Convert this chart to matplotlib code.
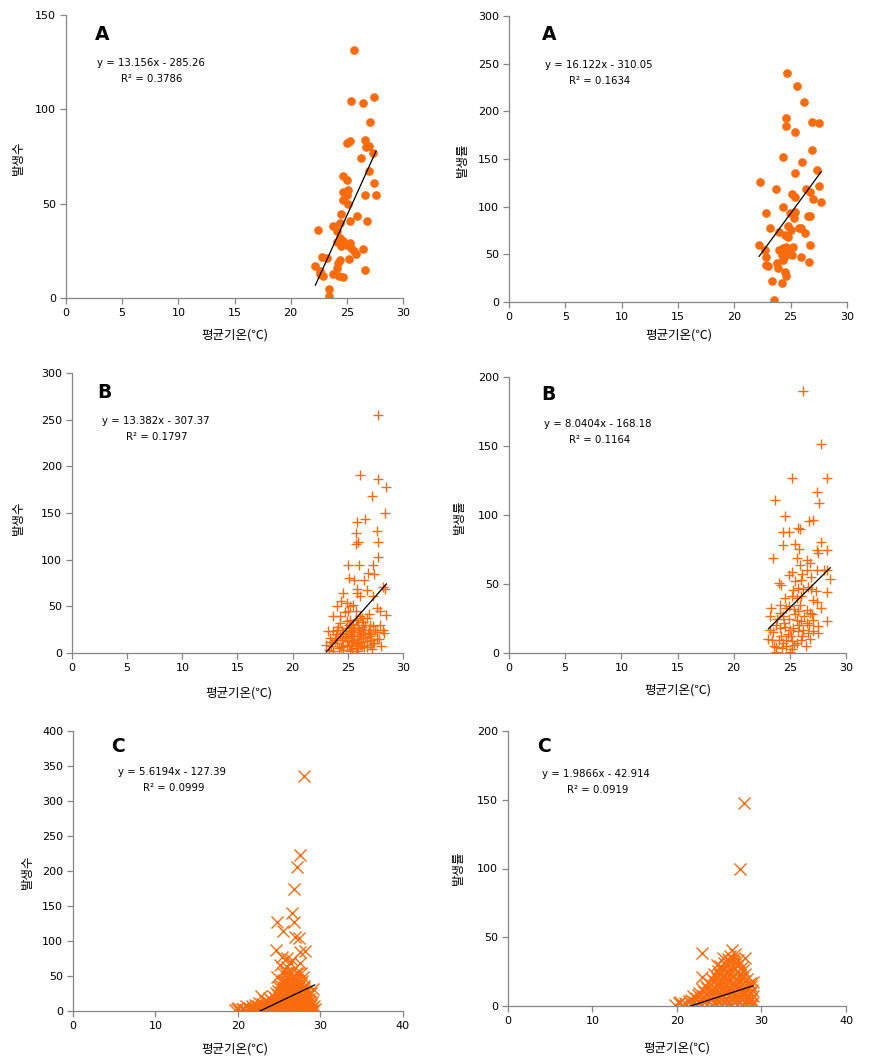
import numpy as np
import matplotlib
matplotlib.use("Agg")
import matplotlib.pyplot as plt

plt.rcParams['font.family'] = ['DejaVu Sans', 'Noto Sans CJK KR']

ORANGE = '#f96b0c'
W, H = 879, 1063

# ---- panel A (circles) ----
a1_x = [25.67, 25.4, 26.4, 27.4, 27.1, 25.0, 25.3, 26.6, 26.7, 27.0, 26.3, 27.3, 27.0, 27.4,
        26.6, 27.6, 24.7, 25.0, 25.1, 24.7, 25.0, 24.7, 25.1, 24.5, 25.9, 25.3, 26.8, 22.4,
        23.8, 24.4, 24.1, 24.4, 24.7, 25.0, 25.3, 24.1, 24.5, 25.4, 25.6, 26.4, 25.8, 25.2,
        22.8, 23.2, 24.4, 24.2, 24.1, 22.2, 22.6, 22.9, 23.8, 24.3, 24.7, 26.6, 23.4, 23.4, 22.6]
a1_y = [131.5, 104.6, 103.4, 106.6, 93.3, 82.0, 83.3, 83.5, 80.3, 80.8, 74.3, 76.8, 67.4, 60.7,
        54.7, 54.7, 64.8, 62.6, 57.0, 56.0, 54.7, 51.7, 50.0, 44.6, 43.6, 40.6, 40.6, 35.8,
        38.3, 40.0, 35.3, 31.8, 30.0, 28.2, 29.1, 29.5, 27.4, 26.5, 24.7, 25.9, 23.5, 20.6,
        21.5, 21.2, 20.3, 18.5, 15.9, 16.8, 12.9, 11.5, 12.9, 11.5, 11.1, 14.6, 4.8, 0.9, 14.1]
a1_fit = (13.156, -285.26)

a2_x = [24.7, 25.6, 26.2, 24.6, 24.6, 25.4, 26.9, 27.5, 24.3, 26.9, 26.0, 27.3, 25.4, 22.3,
        23.7, 26.4, 26.7, 27.5, 25.1, 25.4, 27.0, 27.7, 24.3, 22.8, 24.9, 25.4, 25.3, 26.5,
        26.7, 24.8, 25.0, 25.7, 25.9, 23.2, 24.0, 26.3, 24.5, 24.8, 22.2, 26.7, 22.7, 24.0,
        24.3, 24.6, 24.9, 25.2, 24.2, 24.5, 24.8, 25.1, 25.9, 22.8, 23.8, 24.3, 26.6, 23.0,
        22.8, 23.9, 24.5, 24.6, 23.3, 24.2, 23.5]
a2_y = [240.3, 226.7, 209.9, 193.2, 184.8, 177.8, 189.0, 187.9, 152.6, 159.6, 147.0, 138.7,
        134.8, 126.1, 118.8, 118.8, 114.9, 121.2, 112.8, 110.0, 108.3, 105.1, 99.9, 92.9,
        93.3, 94.7, 88.0, 90.5, 90.5, 79.3, 75.8, 77.5, 77.5, 77.9, 73.4, 72.7, 70.6, 68.1,
        60.1, 60.1, 54.1, 54.8, 56.6, 57.6, 55.5, 57.6, 49.6, 47.9, 51.3, 49.6, 46.8, 46.8,
        40.9, 43.7, 41.6, 37.4, 39.1, 35.6, 31.1, 26.9, 21.7, 19.6, 2.4]
a2_fit = (16.122, -310.05)

# ---- panel B (plus) ----
b1_x = [27.7, 26.1, 27.7, 28.5, 27.2, 28.4, 25.8, 26.6, 27.6, 25.7, 25.9, 25.7, 27.7, 27.7,
        27.3, 25.0, 26.0, 26.8, 27.4, 25.1, 25.6, 26.5, 25.8, 28.2, 28.4, 24.6, 25.8, 26.1,
        26.7, 27.3, 24.4, 24.9, 24.0, 25.2, 25.5, 27.6, 27.9, 24.7, 25.0, 23.7, 28.5, 26.1,
        26.7, 24.3, 24.9, 25.5, 25.8, 26.4, 27.0, 27.3, 23.2, 23.7, 24.0, 24.6, 25.2, 25.5,
        25.9, 26.2, 26.5, 26.8, 28.2, 28.3, 23.35, 23.8, 24.26, 24.7, 25.0, 25.3, 25.6, 25.9,
        26.4, 26.7, 27.1, 27.4, 23.05, 23.5, 24.0, 24.4, 24.9, 25.3, 25.7, 26.1, 26.5, 27.0,
        27.3, 27.6, 23.7, 24.6, 25.2, 25.8, 25.3, 25.6, 25.9, 26.1, 25.5, 25.7, 26.3, 25.4,
        25.8, 26.0, 24.8, 25.1, 26.6, 26.9, 27.1, 23.4, 23.9, 24.5, 27.6, 27.9,
        23.3, 23.6, 24.2, 24.5, 24.8, 25.1, 25.4, 25.6, 25.9, 26.2, 26.4, 26.7, 27.0, 27.2,
        27.5, 27.8, 28.0, 24.1, 24.3, 25.7, 26.3, 26.9, 25.0, 25.4, 25.7, 26.0, 26.3, 26.6,
        25.2, 24.6, 23.9]
b1_y = [255.4, 190.4, 186.8, 177.5, 167.9, 150.0, 140.4, 143.6, 130.7, 128.6, 118.9, 116.8,
        118.6, 103.2, 93.9, 94.6, 94.6, 85.7, 84.6, 80.0, 78.6, 77.9, 68.6, 70.7, 68.6, 63.9,
        63.9, 61.4, 67.1, 60.7, 55.4, 53.6, 50.0, 50.0, 51.8, 48.2, 44.6, 43.6, 44.6, 39.3,
        41.1, 39.3, 37.5, 32.1, 33.9, 31.4, 35.7, 32.9, 30.4, 28.6, 23.2, 23.2, 25.0, 21.4,
        23.2, 25.0, 26.8, 22.1, 25.0, 21.4, 25.0, 21.4, 16.1, 14.3, 17.9, 16.1, 12.5, 17.9,
        14.3, 10.7, 16.1, 12.5, 14.3, 10.7, 8.9, 7.1, 10.7, 6.4, 8.9, 7.1, 5.4, 8.9, 6.1, 8.9,
        10.7, 15.0, 1.8, 3.6, 2.5, 1.8, 28.0, 22.0, 30.0, 20.0, 18.0, 35.0, 28.0, 12.0, 15.0,
        25.0, 27.0, 30.0, 30.0, 25.0, 20.0, 12.0, 20.0, 25.0, 22.0, 30.0,
        3.0, 12.0, 5.0, 14.0, 20.0, 9.0, 4.0, 27.0, 5.0, 12.0, 20.0, 6.0, 18.0, 4.0,
        25.0, 15.0, 8.0, 28.0, 40.0, 45.0, 38.0, 42.0, 16.0, 22.0, 10.0, 18.0, 8.0, 16.0,
        35.0, 8.0, 16.0]
b1_fit = (13.382, -307.37)

b2_x = [26.2, 27.8, 25.2, 28.3, 27.4, 27.6, 23.7, 24.6, 26.7, 27.1, 25.7, 25.9, 24.4, 24.9,
        27.8, 24.4, 25.5, 25.8, 27.4, 28.3, 27.5, 23.5, 25.6, 26.5, 25.9, 26.5, 26.8, 27.4,
        28.0, 28.3, 28.6, 24.9, 25.2, 24.0, 24.2, 26.0, 25.3, 25.7, 26.2, 26.6, 26.9, 28.3,
        25.2, 25.6, 26.0, 27.1, 27.4, 24.1, 24.7, 24.9, 23.3, 27.8, 25.4, 25.7, 26.5, 26.8,
        23.2, 24.1, 24.4, 25.6, 26.0, 26.5, 27.1, 28.3, 27.5, 23.8, 24.1, 24.6, 25.0, 25.3,
        25.7, 26.2, 26.6, 27.1, 27.5, 23.2, 23.5, 23.1, 23.4, 24.0, 24.4, 24.7, 25.2, 25.6,
        26.0, 26.8, 23.8, 24.3, 24.7, 25.2, 23.8, 25.0,
        23.6, 24.2, 24.5, 24.9, 25.1, 25.4, 25.5, 25.8, 26.1, 26.3, 26.4, 26.7, 27.0, 27.3,
        26.9, 25.9, 24.6, 25.5, 26.1, 24.8, 23.9]
b2_y = [189.6, 151.4, 127.1, 126.6, 116.7, 108.7, 110.9, 99.0, 95.9, 96.1, 90.3, 89.9, 87.4,
        87.4, 80.2, 78.5, 79.0, 75.4, 74.9, 74.9, 72.5, 68.6, 68.8, 67.6, 64.0, 60.4, 65.2,
        60.4, 59.9, 60.4, 53.6, 56.8, 58.5, 50.7, 49.5, 53.1, 45.9, 47.1, 46.4, 47.8, 46.4,
        44.0, 41.1, 39.9, 41.1, 38.2, 37.0, 35.0, 32.6, 33.8, 32.6, 32.6, 31.9, 30.2, 31.4,
        29.0, 26.6, 29.0, 26.6, 24.2, 22.9, 21.7, 23.7, 22.9, 19.3, 20.5, 18.1, 18.8, 16.9,
        18.1, 15.7, 16.9, 14.5, 15.7, 14.5, 16.9, 15.0, 10.1, 9.2, 9.2, 7.2, 9.7, 8.5, 7.2,
        9.7, 10.1, 4.1, 3.6, 4.8, 3.1, 0.5, 0.5,
        5.0, 12.0, 22.0, 25.0, 12.0, 6.0, 28.0, 20.0, 12.0, 27.0, 5.0, 20.0, 28.0, 45.0,
        55.0, 35.0, 40.0, 52.0, 57.0, 14.0, 25.0]
b2_fit = (8.0404, -168.18)

# ---- panel C (x) ----
c1_x = [28.0, 27.5, 27.2, 26.8, 26.5, 26.8, 24.7, 25.5, 26.9, 27.4, 24.6, 28.1, 27.5, 25.3,
        26.0, 26.5, 27.5, 25.1, 25.9, 26.3, 25.5, 26.1, 26.7, 27.3, 27.9, 24.7, 29.1, 22.8,
        19.6, 20.3, 20.8, 21.5, 22.0, 22.7, 23.2, 23.9, 24.4, 25.1, 25.6, 26.2, 26.9, 27.4,
        28.1, 28.6, 29.1, 20.0, 20.6, 21.3, 21.8, 22.4, 23.1, 23.6, 24.2, 24.9, 25.4, 26.0,
        26.7, 27.2, 27.8, 28.4, 28.9, 22.1, 22.9, 23.5, 24.1, 24.8, 25.3, 25.9, 26.4, 27.1,
        27.7, 28.3, 28.8, 23.3, 24.0, 24.6, 25.2, 25.8, 26.4, 27.0, 27.6, 28.2, 28.7, 24.3,
        24.9, 25.5, 26.1, 26.7, 27.3, 27.9, 28.5, 24.8, 25.4, 26.0, 26.6, 27.2, 27.8, 28.3,
        25.1, 25.7, 26.3, 26.9, 27.5, 28.0, 25.4, 26.0, 26.6, 27.2, 27.7,
        19.9, 20.5, 21.0, 21.6, 22.2, 22.5, 23.0, 23.4, 23.7, 24.0, 24.6, 25.3, 25.8, 26.4,
        27.0, 27.6, 28.2, 28.8, 29.3, 21.0, 21.7, 22.4, 23.2, 23.8, 24.5, 25.0, 25.6, 26.2,
        26.8, 27.4, 28.0, 28.6, 29.2, 22.6, 23.6, 24.3, 24.9, 25.5, 26.1, 26.7, 27.3, 27.9,
        28.5, 29.0, 23.8, 24.5, 25.0, 25.6, 26.2, 26.8, 27.4, 28.0, 28.6, 24.6, 25.2, 25.8,
        26.4, 27.0, 27.6, 28.2, 28.8, 25.0, 25.6, 26.2, 26.8, 27.4, 28.0, 25.3, 25.9, 26.5,
        27.1, 25.8, 26.4, 27.0, 27.6]
c1_y = [335.8, 223.0, 206.0, 173.6, 139.4, 127.5, 127.5, 113.7, 106.0, 103.7, 87.0, 86.0,
        84.7, 77.5, 75.1, 72.8, 69.0, 65.6, 63.3, 68.0, 53.7, 56.1, 49.0, 53.7, 49.0, 49.0,
        31.0, 21.4, 1.0, 0.5, 2.0, 1.0, 1.5, 0.5, 2.0, 1.0, 0.5, 1.5, 1.0, 2.0, 0.5, 1.0,
        1.5, 0.5, 2.0, 4.0, 3.5, 4.5, 5.0, 4.0, 5.5, 4.0, 5.0, 4.5, 3.5, 5.0, 4.0, 5.5, 4.0,
        4.5, 5.0, 8.0, 9.5, 8.5, 10.0, 9.0, 10.5, 9.0, 8.5, 10.0, 9.0, 9.5, 8.0, 14.0, 15.5,
        14.5, 16.0, 15.0, 14.0, 16.5, 15.0, 15.5, 14.0, 21.0, 23.0, 22.0, 24.0, 21.5, 23.0,
        22.5, 21.0, 29.0, 31.0, 30.0, 32.5, 29.5, 31.0, 28.0, 37.0, 39.0, 38.0, 40.0, 37.5,
        36.0, 45.0, 47.0, 46.0, 44.0, 43.0,
        2.5, 3.0, 2.0, 2.5, 3.0, 2.5, 3.0, 2.0, 2.5, 3.0, 2.5, 2.0, 3.0, 2.5, 2.0, 3.0, 2.5,
        2.0, 2.5, 7.0, 6.5, 7.5, 7.0, 6.5, 7.5, 7.0, 6.5, 7.5, 7.0, 6.5, 7.5, 7.0, 6.5, 12.0,
        12.5, 11.5, 12.0, 12.5, 11.5, 12.0, 12.5, 11.5, 12.0, 12.5, 18.0, 18.5, 17.5, 18.0,
        18.5, 17.5, 18.0, 18.5, 17.5, 26.0, 26.5, 25.5, 26.0, 26.5, 25.5, 26.0, 25.5, 34.0,
        34.5, 33.5, 34.0, 34.5, 33.5, 42.0, 42.5, 41.5, 42.0, 55.0, 56.0, 54.0, 55.0]
c1_fit = (5.6194, -127.39)

c2_x = [27.9, 27.5, 23.0, 22.9, 26.5, 28.1, 25.5, 24.7, 29.0, 19.8, 20.2, 20.6, 21.1, 21.7,
        22.3, 22.9, 23.5, 24.1, 24.7, 25.3, 25.9, 26.5, 27.1, 27.7, 28.3, 28.9, 21.6, 22.2,
        22.8, 23.4, 24.0, 24.6, 25.2, 25.8, 26.4, 27.0, 27.6, 28.2, 28.8, 22.6, 23.2, 23.8,
        24.4, 25.0, 25.6, 26.2, 26.8, 27.4, 28.0, 28.6, 23.4, 24.0, 24.6, 25.2, 25.8, 26.4,
        27.0, 27.6, 28.2, 28.7, 24.1, 24.7, 25.3, 25.9, 26.5, 27.1, 27.7, 28.3, 24.8, 25.4,
        26.0, 26.6, 27.2, 27.8, 25.6, 26.2, 26.8, 27.4, 26.3, 26.9,
        20.3, 20.9, 21.4, 22.0, 22.6, 23.2, 23.8, 24.4, 25.0, 25.6, 26.2, 26.8, 27.4, 28.0,
        28.6, 29.0, 21.9, 22.5, 23.1, 23.7, 24.3, 24.9, 25.5, 26.1, 26.7, 27.3, 27.9, 28.5,
        29.0, 22.9, 23.5, 24.1, 24.7, 25.3, 25.9, 26.5, 27.1, 27.7, 28.3, 28.9, 23.7, 24.4,
        25.0, 25.6, 26.2, 26.8, 27.4, 28.0, 28.6, 24.4, 25.0, 25.7, 26.3, 26.9, 27.5, 28.1,
        25.1, 25.8, 26.5, 27.1, 27.7, 26.0, 26.6, 27.2]
c2_y = [147.3, 99.5, 38.3, 21.4, 40.8, 34.7, 34.7, 29.9, 17.7, 0.5, 1.9, 0.8, 1.2, 0.6, 1.5,
        0.8, 1.2, 0.5, 1.4, 0.9, 1.3, 0.6, 1.1, 0.7, 1.5, 0.9, 4.5, 5.5, 4.8, 5.2, 6.0, 4.6,
        5.4, 5.8, 4.9, 5.3, 5.7, 4.7, 5.1, 9.5, 10.5, 10.0, 11.0, 9.8, 10.3, 10.8, 9.6, 10.4,
        10.1, 9.7, 14.5, 15.5, 15.0, 16.0, 14.8, 15.3, 15.7, 14.6, 15.2, 14.9, 19.5, 20.5,
        21.0, 20.0, 20.8, 19.8, 20.4, 19.6, 25.5, 26.5, 26.0, 27.0, 25.8, 26.2, 31.5, 32.5,
        33.0, 31.0, 36.5, 37.5,
        3.0, 2.5, 3.5, 3.0, 2.5, 3.5, 3.0, 2.5, 3.5, 3.0, 2.5, 3.5, 3.0, 2.5, 3.5, 3.0, 7.5,
        8.0, 7.0, 7.5, 8.0, 7.0, 7.5, 8.0, 7.0, 7.5, 8.0, 7.0, 7.5, 12.5, 13.0, 12.0, 12.5,
        13.0, 12.0, 12.5, 13.0, 12.0, 12.5, 12.0, 17.5, 18.0, 17.0, 17.5, 18.0, 17.0, 17.5,
        18.0, 17.0, 23.0, 23.5, 22.5, 23.0, 23.5, 22.5, 23.0, 29.0, 29.5, 28.5, 29.0, 28.5,
        34.0, 34.5, 33.5]
c2_fit = (1.9866, -42.914)

panels = [
    # x, y, fit, marker, letter, eq, r2, ylabel, xmax, xstep, ymax, box(px L,R,T,B)
    (a1_x, a1_y, a1_fit, 'o', 'A', 'y = 13.156x - 285.26', 'R² = 0.3786', '발생수', 30, 5, 150, (66, 403, 15, 298)),
    (a2_x, a2_y, a2_fit, 'o', 'A', 'y = 16.122x - 310.05', 'R² = 0.1634', '발생률', 30, 5, 300, (509, 847, 16, 302)),
    (b1_x, b1_y, b1_fit, '+', 'B', 'y = 13.382x - 307.37', 'R² = 0.1797', '발생수', 30, 5, 300, (72, 403, 373, 653)),
    (b2_x, b2_y, b2_fit, '+', 'B', 'y = 8.0404x - 168.18', 'R² = 0.1164', '발생률', 30, 5, 200, (509, 846, 377, 653)),
    (c1_x, c1_y, c1_fit, 'x', 'C', 'y = 5.6194x - 127.39', 'R² = 0.0999', '발생수', 40, 10, 400, (73, 403, 731, 1011)),
    (c2_x, c2_y, c2_fit, 'x', 'C', 'y = 1.9866x - 42.914', 'R² = 0.0919', '발생률', 40, 10, 200, (508, 846, 731, 1006)),
]

# text anchor positions in pixels: letter centre, eq left/centre, r2 left/centre, xlabel, ylabel
text_px = [
    ((102, 35), (97, 63), (121, 79), (235, 335), (18, 158)),
    ((549, 34), (545, 65), (569, 81), (679, 335), (462, 160)),
    ((104, 393), (102, 421), (126, 437), (239, 693), (18, 518)),
    ((548, 394), (544, 424), (569, 440), (678, 690), (459, 517)),
    ((118, 747), (118, 772), (143, 788), (235, 1049), (27, 872)),
    ((544, 747), (542, 774), (567, 790), (677, 1048), (458, 868)),
]


def fx(px):
    return px / W


def fy(py):
    return 1 - py / H


fig = plt.figure(figsize=(W / 100, H / 100), dpi=100)

for (x, y, fit, mk, letter, eq, r2, ylab, xmax, xstep, ymax, box), tp in zip(panels, text_px):
    L, R, T, B = box
    ax = fig.add_axes([fx(L), fy(B), (R - L) / W, (B - T) / H])
    if mk == 'o':
        ax.plot(x, y, 'o', color=ORANGE, ms=5.2, mec=ORANGE, zorder=2)
    elif mk == '+':
        ax.plot(x, y, '+', color=ORANGE, ms=6.5, mew=1.0, zorder=2)
    else:
        ax.plot(x, y, 'x', color=ORANGE, ms=8.5, mew=1.0, zorder=2)
    xs = np.array([min(x), max(x)])
    ax.plot(xs, fit[0] * xs + fit[1], color='black', lw=0.9, zorder=3)

    ax.set_xlim(0, xmax)
    ax.set_ylim(0, ymax)
    ax.set_xticks(np.arange(0, xmax + 1, xstep))
    ax.set_yticks(np.arange(0, ymax + 1, 50))
    for s in ['top', 'right']:
        ax.spines[s].set_visible(False)
    for s in ['left', 'bottom']:
        ax.spines[s].set_color('#868686')
        ax.spines[s].set_linewidth(0.9)
    ax.tick_params(direction='out', length=4, width=0.9, color='#868686',
                   labelsize=8, pad=3)
    ax.patch.set_alpha(0)

    (lx, ly), (ex, ey), (rx, ry), (xlx, xly), (ylx, yly) = tp
    fig.text(fx(lx), fy(ly), letter, fontsize=13.5, fontweight='bold', ha='center', va='center')
    fig.text(fx(ex), fy(ey), eq, fontsize=7.3, ha='left', va='center')
    fig.text(fx(rx), fy(ry), r2, fontsize=7.3, ha='left', va='center')
    fig.text(fx(xlx), fy(xly), '평균기온(℃)', fontsize=9, ha='center', va='center',
             family=['Noto Sans CJK KR', 'DejaVu Sans'])
    fig.text(fx(ylx), fy(yly), ylab, fontsize=9, ha='center', va='center', rotation=90,
             family=['Noto Sans CJK KR', 'DejaVu Sans'])

fig.savefig('out.png', dpi=100)
